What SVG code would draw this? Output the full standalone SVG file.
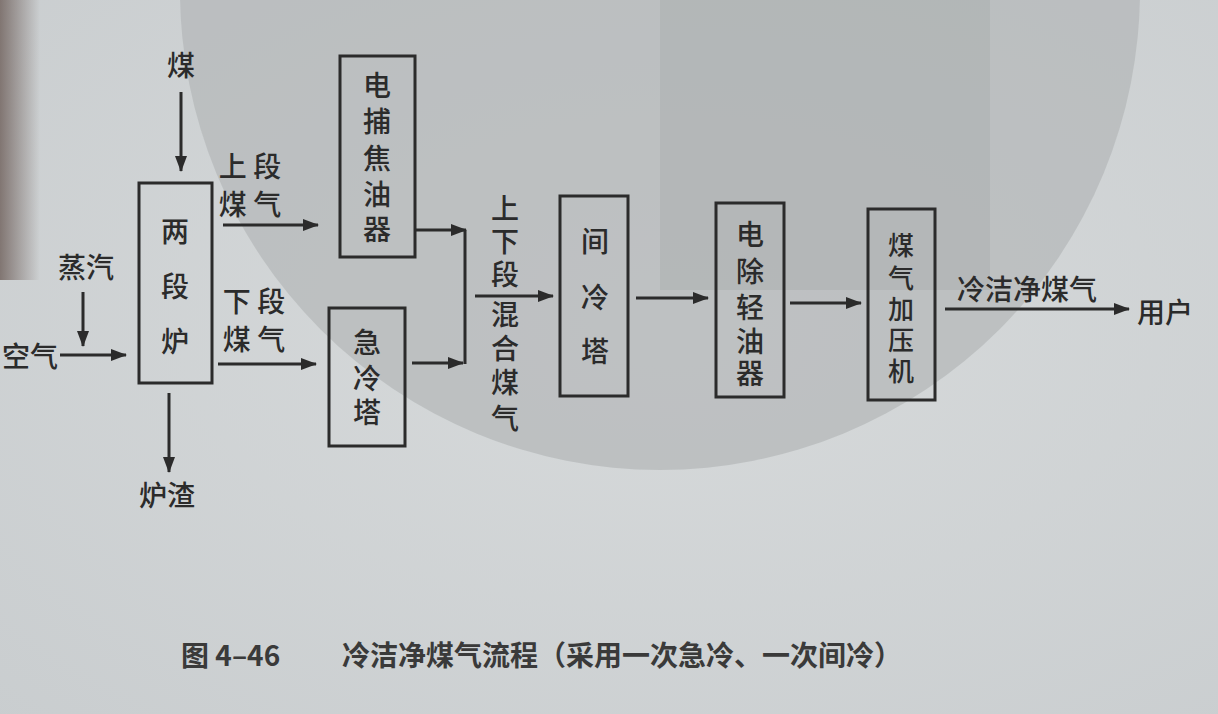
<svg xmlns="http://www.w3.org/2000/svg" width="1218" height="714" viewBox="0 0 1218 714">
<style>
.t{font-family:"Noto Sans CJK SC","Noto Sans",sans-serif;fill:#2b2b2b;font-size:28px;text-anchor:middle;dominant-baseline:central;font-weight:500}
.s{font-size:26px}
.box{fill:none;stroke:#2b2b2b;stroke-width:3}
.ln{fill:none;stroke:#2b2b2b;stroke-width:3}
.cap{font-family:"Noto Sans CJK SC","Noto Sans",sans-serif;fill:#3a3a3a;font-size:28px;font-weight:700}
</style>
<defs>
<marker id="ah" markerWidth="16" markerHeight="12" refX="15" refY="6" orient="auto" markerUnits="userSpaceOnUse">
<path d="M0,0 L16,6 L0,12 Z" fill="#2b2b2b"/>
</marker>
<radialGradient id="bg" cx="0.55" cy="0.45" r="0.8">
<stop offset="0" stop-color="#d7dadb"/><stop offset="1" stop-color="#c9cdcf"/>
</radialGradient>
<linearGradient id="sh" x1="0" y1="0" x2="1" y2="0">
<stop offset="0" stop-color="#6e5f5a" stop-opacity="0.8"/><stop offset="1" stop-color="#6e5f5a" stop-opacity="0"/>
</linearGradient>
</defs>
<rect width="1218" height="714" fill="url(#bg)"/>
<circle cx="660" cy="-10" r="480" fill="#b4b7b8" opacity="0.7"/>
<rect x="660" y="0" width="330" height="290" fill="#a9acad" opacity="0.45"/>
<rect x="0" y="0" width="40" height="280" fill="url(#sh)"/>

<g id="n-furnace"><rect class="box" x="139" y="183" width="73" height="200"/>
<text class="t" x="175" y="230">两</text><text class="t" x="175" y="285">段</text><text class="t" x="175" y="340">炉</text></g>
<g id="n-tar"><rect class="box" x="340" y="56" width="75" height="201"/>
<text class="t" x="377" y="84">电</text><text class="t" x="377" y="120">捕</text><text class="t" x="377" y="157">焦</text><text class="t" x="377" y="193">油</text><text class="t" x="377" y="228">器</text></g>
<g id="n-quench"><rect class="box" x="329" y="308" width="76" height="138"/>
<text class="t" x="367" y="341">急</text><text class="t" x="367" y="377">冷</text><text class="t" x="367" y="411">塔</text></g>
<g id="n-cooler"><rect class="box" x="560" y="196" width="68" height="200"/>
<text class="t" x="595" y="240">间</text><text class="t" x="595" y="296">冷</text><text class="t" x="595" y="350">塔</text></g>
<g id="n-oil"><rect class="box" x="716" y="203" width="68" height="194"/>
<text class="t" x="750" y="233">电</text><text class="t" x="750" y="270">除</text><text class="t" x="750" y="306">轻</text><text class="t" x="750" y="340">油</text><text class="t" x="750" y="372">器</text></g>
<g id="n-comp"><rect class="box" x="868" y="209" width="67" height="191"/>
<text class="t s" x="901" y="243">煤</text><text class="t s" x="901" y="276">气</text><text class="t s" x="901" y="307">加</text><text class="t s" x="901" y="338">压</text><text class="t s" x="901" y="369">机</text></g>

<g id="labels">
<text class="t" x="181" y="64">煤</text>
<text class="t" x="86" y="266">蒸汽</text>
<text class="t" x="30" y="355">空气</text>
<text class="t" x="167" y="494">炉渣</text>
<text class="t" x="250" y="165">上 段</text>
<text class="t" x="250" y="203">煤 气</text>
<text class="t" x="254" y="300">下 段</text>
<text class="t" x="254" y="338">煤 气</text>
<text class="t" x="505" y="207">上</text><text class="t" x="505" y="240">下</text><text class="t" x="505" y="273">段</text><text class="t" x="505" y="313">混</text><text class="t" x="505" y="347">合</text><text class="t" x="505" y="381">煤</text><text class="t" x="505" y="417">气</text>
<text class="t" x="1027" y="288">冷洁净煤气</text>
<text class="t" x="1165" y="311">用户</text>
</g>

<g id="connectors">
<line class="ln" x1="181" y1="92" x2="181" y2="171" marker-end="url(#ah)"/>
<line class="ln" x1="83" y1="292" x2="83" y2="346" marker-end="url(#ah)"/>
<line class="ln" x1="60" y1="355" x2="126" y2="355" marker-end="url(#ah)"/>
<line class="ln" x1="169" y1="393" x2="169" y2="472" marker-end="url(#ah)"/>
<line class="ln" x1="223" y1="225" x2="318" y2="225" marker-end="url(#ah)"/>
<line class="ln" x1="218" y1="364" x2="316" y2="364" marker-end="url(#ah)"/>
<line class="ln" x1="416" y1="230" x2="466" y2="230" marker-end="url(#ah)"/>
<line class="ln" x1="412" y1="363" x2="463" y2="363" marker-end="url(#ah)"/>
<line class="ln" x1="465" y1="230" x2="465" y2="364"/>
<line class="ln" x1="475" y1="296" x2="553" y2="296" marker-end="url(#ah)"/>
<line class="ln" x1="636" y1="298" x2="708" y2="298" marker-end="url(#ah)"/>
<line class="ln" x1="790" y1="303" x2="861" y2="303" marker-end="url(#ah)"/>
<line class="ln" x1="945" y1="309" x2="1129" y2="309" marker-end="url(#ah)"/>
</g>

<g id="caption">
<text class="cap" x="181" y="666">图 4–46</text>
<text class="cap" x="342" y="666">冷洁净煤气流程（采用一次急冷、一次间冷）</text>
</g>
</svg>
